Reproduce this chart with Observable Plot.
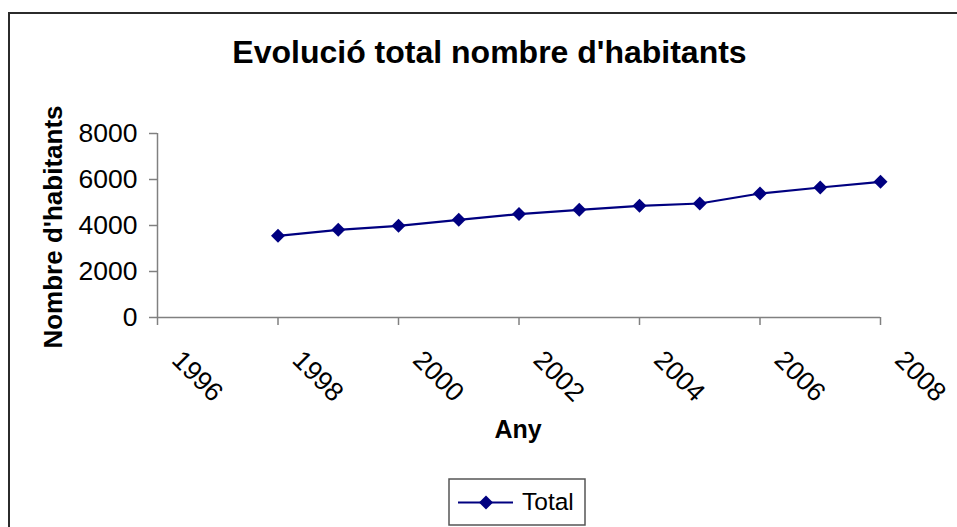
<!DOCTYPE html>
<html><head><meta charset="utf-8">
<script src="https://cdn.jsdelivr.net/npm/d3@7"></script>
<script src="https://cdn.jsdelivr.net/npm/@observablehq/plot@0.6"></script>
<style>
html,body{margin:0;padding:0;background:#fff;}
#wrap{position:relative;width:957px;height:527px;overflow:hidden;font-family:"Liberation Sans",Arial,sans-serif;}
#frame{position:absolute;left:8px;top:12px;width:1000px;height:600px;border:2px solid #2b2b2b;box-sizing:border-box;}
#chart{position:absolute;left:0;top:0;}
#overlay{position:absolute;left:0;top:0;}
</style></head><body>
<div id="wrap"><div id="frame"></div><div id="chart"></div><svg id="overlay" width="957" height="527"></svg></div>
<script>
const years = [1998, 1999, 2000, 2001, 2002, 2003, 2004, 2005, 2006, 2007, 2008];
const habitants = [3552, 3813, 3987, 4248, 4496, 4683, 4857, 4957, 5391, 5652, 5900];
const xTicks = [1996, 1998, 2000, 2002, 2004, 2006, 2008];
const yTicks = [0, 2000, 4000, 6000, 8000];
const titleText = "Evolució total nombre d'habitants";
const xLabel = "Any";
const yLabel = "Nombre d'habitants";
const seriesName = "Total";

const data = years.map((year, i) => ({year, value: habitants[i]}));
const navy = "#000080";
const gray = "#808080";
const font = "'Liberation Sans', Arial, sans-serif";

const plot = Plot.plot({
  width: 957, height: 527,
  marginLeft: 157, marginRight: 77, marginTop: 133, marginBottom: 210,
  style: {fontFamily: font, background: "transparent", color: "#000"},
  x: {domain: [1996, 2008], axis: null},
  y: {domain: [0, 8000], axis: null},
  marks: [
    Plot.ruleY([0], {stroke: gray, strokeWidth: 1.5}),
    Plot.ruleX([1996], {stroke: gray, strokeWidth: 1.5}),
    Plot.axisY(yTicks, {tickSize: 8, tickPadding: 12, fontSize: 26.5, stroke: gray, strokeWidth: 1.5, fill: "#000", label: null, tickFormat: d3.format("d")}),
    Plot.axisX(xTicks, {tickSize: 8, stroke: gray, strokeWidth: 1.5, label: null, tickFormat: () => ""}),
    Plot.text(xTicks, {x: d => d, y: () => 0, text: d => String(d), rotate: 45, textAnchor: "start", lineAnchor: "bottom", dx: 13, dy: 44, fontSize: 26.5, fill: "#000"}),
    Plot.line(data, {x: "year", y: "value", stroke: navy, strokeWidth: 2.2}),
    Plot.dot(data, {x: "year", y: "value", symbol: "diamond2", r: 6.3, fill: navy, stroke: "none"})
  ]
});
document.getElementById("chart").appendChild(plot);

const ov = d3.select("#overlay").style("font-family", font);
ov.append("text").attr("x", 489.5).attr("y", 63).attr("text-anchor", "middle")
  .attr("font-weight", "bold").attr("font-size", 32).text(titleText);
ov.append("text").attr("transform", "translate(62,227) rotate(-90)").attr("text-anchor", "middle")
  .attr("font-weight", "bold").attr("font-size", 26).text(yLabel);
ov.append("text").attr("x", 518).attr("y", 438).attr("text-anchor", "middle")
  .attr("font-weight", "bold").attr("font-size", 25).text(xLabel);
const lg = ov.append("g");
lg.append("rect").attr("x", 449).attr("y", 479).attr("width", 136).attr("height", 46)
  .attr("fill", "#fff").attr("stroke", "#555").attr("stroke-width", 1.5);
lg.append("line").attr("x1", 458).attr("x2", 513).attr("y1", 502.5).attr("y2", 502.5)
  .attr("stroke", navy).attr("stroke-width", 2.2);
lg.append("path").attr("d", d3.symbol(d3.symbolDiamond2, Math.PI * 6.3 * 6.3)()).attr("transform", "translate(486,502.5)")
  .attr("fill", navy);
lg.append("text").attr("x", 522).attr("y", 510).attr("font-size", 24.5).text(seriesName);
</script>
</body></html>
